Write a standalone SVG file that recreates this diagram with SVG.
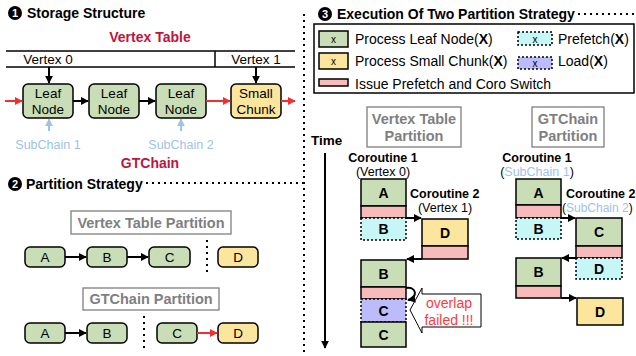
<svg xmlns="http://www.w3.org/2000/svg" width="636" height="356" viewBox="0 0 636 356">
<defs>
<style>
text{font-family:"Liberation Sans",Arial,sans-serif;fill:#000}
.ttl{font-size:14px;font-weight:bold}
.num{fill:#fff;font-size:11px;font-weight:bold;text-anchor:middle}
.red{fill:#C0143C;font-weight:bold;font-size:14px}
.lb{fill:#9DC3E6;font-size:12.5px}
.n{font-size:13.5px;text-anchor:middle}
.b{stroke:#000;stroke-width:1.5}
.g{fill:#C9DDB7}
.y{fill:#FCE59C}
.p{fill:#F8BBBB}
.c{fill:#C6F6F6;stroke:#000;stroke-width:1.5;stroke-dasharray:2 2}
.l{fill:#BCBCFC;stroke:#000;stroke-width:1.5;stroke-dasharray:2 2}
.gray{fill:#7F7F7F;font-weight:bold;font-size:14.5px;text-anchor:middle}
.gb{fill:#fff;stroke:#7F7F7F;stroke-width:1.3}
.leg{font-size:14px}
.bx{font-size:14px;font-weight:bold;text-anchor:middle}
.co{font-size:12.5px;font-weight:bold}
.par{font-size:12.5px;text-anchor:middle}
.warn{fill:#FF3B3B;font-size:14px;text-anchor:middle}
.dot{stroke:#000;stroke-width:2;stroke-dasharray:2 4;fill:none}
.ab{stroke:#000;stroke-width:2;fill:none}
.ar{stroke:#F03030;stroke-width:2;fill:none}
.abl{stroke:#9DC3E6;stroke-width:2;fill:none}
</style>
<marker id="mb" viewBox="0 0 10 10" refX="9" refY="5" markerWidth="4" markerHeight="4" orient="auto"><path d="M0,0L10,5L0,10z" fill="#000"/></marker>
<marker id="mr" viewBox="0 0 10 10" refX="9" refY="5" markerWidth="4" markerHeight="4" orient="auto"><path d="M0,0L10,5L0,10z" fill="#F03030"/></marker>
<marker id="ml" viewBox="0 0 10 10" refX="9" refY="5" markerWidth="4" markerHeight="4" orient="auto"><path d="M0,0L10,5L0,10z" fill="#9DC3E6"/></marker>
</defs>
<rect width="636" height="356" fill="#fff"/>

<g id="separators">
<line class="dot" x1="304" y1="14" x2="304" y2="356"/>
<line class="dot" x1="146" y1="183" x2="304" y2="183"/>
<line class="dot" x1="578" y1="14" x2="636" y2="14"/>
</g>

<g id="title1">
<circle cx="15" cy="13" r="7"/>
<text x="15" y="17" class="num">1</text>
<text x="27" y="18" class="ttl">Storage Structure</text>
</g>
<g id="vertex-table">
<text x="150" y="42" class="red" text-anchor="middle">Vertex Table</text>
<line x1="6" y1="51" x2="295" y2="51" stroke="#000" stroke-width="1.5"/>
<line x1="6" y1="67" x2="295" y2="67" stroke="#000" stroke-width="1.5"/>
<line x1="215" y1="51" x2="215" y2="67" stroke="#000" stroke-width="1.5"/>
<text x="48" y="64" class="n">Vertex 0</text>
<text x="256" y="64" class="n">Vertex 1</text>
</g>
<g id="leaf1"><rect x="23" y="84" width="50" height="34" rx="5" class="g b"/><text x="48" y="98" class="n">Leaf</text><text x="48" y="114" class="n">Node</text></g>
<g id="leaf2"><rect x="89" y="84" width="50" height="34" rx="5" class="g b"/><text x="114" y="98" class="n">Leaf</text><text x="114" y="114" class="n">Node</text></g>
<g id="leaf3"><rect x="156" y="84" width="50" height="34" rx="5" class="g b"/><text x="181" y="98" class="n">Leaf</text><text x="181" y="114" class="n">Node</text></g>
<g id="small-chunk"><rect x="231" y="84" width="50" height="34" rx="5" class="y b"/><text x="256" y="98" class="n">Small</text><text x="256" y="114" class="n">Chunk</text></g>
<g id="subchain-labels">
<text x="48" y="149" class="lb" text-anchor="middle">SubChain 1</text>
<text x="181" y="149" class="lb" text-anchor="middle">SubChain 2</text>
<text x="150" y="168" class="red" text-anchor="middle">GTChain</text>
</g>

<g id="title2">
<circle cx="15" cy="184" r="7"/>
<text x="15" y="188" class="num">2</text>
<text x="26" y="189" class="ttl">Partition Strategy</text>
</g>
<g id="vt-partition-label"><rect x="71" y="211" width="160" height="23" class="gb"/><text x="151" y="227.5" class="gray">Vertex Table Partition</text></g>
<g id="r1A"><rect x="25" y="247" width="40" height="20" rx="5" class="g b"/><text x="45" y="262" class="n">A</text></g>
<g id="r1B"><rect x="87" y="247" width="40" height="20" rx="5" class="g b"/><text x="107" y="262" class="n">B</text></g>
<g id="r1C"><rect x="149" y="247" width="41" height="20" rx="5" class="g b"/><text x="169.5" y="262" class="n">C</text></g>
<g id="r1D"><rect x="218" y="247" width="40" height="20" rx="5" class="y b"/><text x="238" y="262" class="n">D</text></g>
<g id="gt-partition-label"><rect x="83" y="288" width="136" height="22" class="gb"/><text x="151" y="304" class="gray">GTChain Partition</text></g>
<g id="r2A"><rect x="25" y="323" width="40" height="20" rx="5" class="g b"/><text x="45" y="338" class="n">A</text></g>
<g id="r2B"><rect x="87" y="323" width="40" height="20" rx="5" class="g b"/><text x="107" y="338" class="n">B</text></g>
<g id="r2C"><rect x="157" y="323" width="40" height="20" rx="5" class="g b"/><text x="177" y="338" class="n">C</text></g>
<g id="r2D"><rect x="218" y="323" width="40" height="20" rx="5" class="y b"/><text x="238" y="338" class="n">D</text></g>
<g id="partition-cuts">
<line class="dot" x1="207" y1="240" x2="207" y2="273"/>
<line class="dot" x1="144" y1="316" x2="144" y2="348"/>
</g>

<g id="title3">
<circle cx="325" cy="14" r="7"/>
<text x="325" y="18" class="num">3</text>
<text x="337" y="19" class="ttl">Execution Of Two Partition Strategy</text>
</g>
<g id="legend">
<rect x="314" y="24" width="320" height="69" fill="#fff" stroke="#000" stroke-width="1.5"/>
<rect x="319" y="31" width="29" height="16" class="g b"/><text x="333.5" y="43" font-size="10" text-anchor="middle">x</text>
<text x="355" y="44" class="leg">Process Leaf Node(<tspan font-weight="bold">X</tspan>)</text>
<rect x="319" y="53" width="29" height="16" class="y b"/><text x="333.5" y="65" font-size="10" text-anchor="middle">x</text>
<text x="355" y="66" class="leg">Process Small Chunk(<tspan font-weight="bold">X</tspan>)</text>
<rect x="319" y="79" width="29" height="7" class="p b"/>
<text x="355" y="89" class="leg">Issue Prefetch and Coro Switch</text>
<rect x="518" y="32" width="34" height="13" class="c"/><text x="535" y="43" font-size="10" text-anchor="middle">x</text>
<text x="558" y="44" class="leg">Prefetch(<tspan font-weight="bold">X</tspan>)</text>
<rect x="518" y="57" width="34" height="12" class="l"/><text x="535" y="67" font-size="10" text-anchor="middle">x</text>
<text x="558" y="66" class="leg">Load(<tspan font-weight="bold">X</tspan>)</text>
</g>
<g id="time-axis">
<text x="311" y="145" font-size="13.5" font-weight="bold">Time</text>
</g>

<g id="vt-exec-label"><rect x="367" y="107" width="94" height="40" class="gb"/><text x="414" y="124" class="gray">Vertex Table</text><text x="414" y="141" class="gray">Partition</text></g>
<g id="vt-coroutine1">
<text x="383" y="161.5" class="co" text-anchor="middle">Coroutine 1</text>
<text x="383" y="176" class="par">(Vertex 0)</text>
<rect x="361" y="179" width="45" height="27" class="g b"/><text x="383.5" y="198" class="bx">A</text>
<rect x="361" y="206" width="45" height="12" class="p b"/>
<rect x="361" y="218" width="45" height="22" class="c"/><text x="383.5" y="234" class="bx">B</text>
<rect x="361" y="260" width="45" height="27" class="g b"/><text x="383.5" y="279" class="bx">B</text>
<rect x="361" y="287" width="45" height="12" class="p b"/>
<rect x="361" y="299" width="45" height="23" class="l"/><text x="383.5" y="315.5" class="bx">C</text>
<rect x="361" y="322" width="45" height="25" class="g b"/><text x="383.5" y="340" class="bx">C</text>
</g>
<g id="vt-coroutine2">
<text x="410" y="197.5" class="co">Coroutine 2</text>
<text x="445" y="211.5" class="par">(Vertex 1)</text>
<rect x="422" y="219" width="46" height="27" class="y b"/><text x="445" y="238" class="bx">D</text>
<rect x="422" y="246" width="46" height="13" class="p b"/>
</g>
<g id="overlap-callout">
<path d="M410,310 L422,288 L422,294 L481,294 L481,327 L422,327 L422,333 Z" fill="#fff" stroke="#000" stroke-width="1"/>
<text x="449" y="308" class="warn">overlap</text>
<text x="449" y="325" class="warn">failed !!!</text>
</g>

<g id="gt-exec-label"><rect x="532" y="107" width="72" height="40" class="gb"/><text x="568" y="124" class="gray">GTChain</text><text x="568" y="141" class="gray">Partition</text></g>
<g id="gt-coroutine1">
<text x="537" y="161.5" class="co" text-anchor="middle">Coroutine 1</text>
<text x="537" y="176" class="par">(<tspan fill="#9DC3E6">SubChain 1</tspan>)</text>
<rect x="516" y="179" width="45" height="26" class="g b"/><text x="538.5" y="197.5" class="bx">A</text>
<rect x="516" y="205" width="45" height="13" class="p b"/>
<rect x="516" y="218" width="45" height="21" class="c"/><text x="538.5" y="234" class="bx">B</text>
<rect x="516" y="258" width="45" height="28" class="g b"/><text x="538.5" y="277" class="bx">B</text>
<rect x="516" y="286" width="45" height="12" class="p b"/>
</g>
<g id="gt-coroutine2">
<text x="566" y="197.5" class="co">Coroutine 2</text>
<text x="562" y="211.5" font-size="12">(<tspan fill="#9DC3E6">SubChain 2</tspan>)</text>
<rect x="576" y="218" width="46" height="28" class="g b"/><text x="599" y="237" class="bx">C</text>
<rect x="576" y="246" width="46" height="12" class="p b"/>
<rect x="576" y="258" width="46" height="21" class="c"/><text x="599" y="274" class="bx">D</text>
<rect x="577" y="298" width="46" height="27" class="y b"/><text x="600" y="317" class="bx">D</text>
</g>

<g id="connectors">
<line class="ab" x1="49" y1="67" x2="49" y2="83" marker-end="url(#mb)"/>
<line class="ab" x1="256" y1="67" x2="256" y2="83" marker-end="url(#mb)"/>
<line class="ar" x1="5" y1="101" x2="22" y2="101" marker-end="url(#mr)"/>
<line class="ab" x1="73" y1="101" x2="88" y2="101" marker-end="url(#mb)"/>
<line class="ab" x1="139" y1="101" x2="155" y2="101" marker-end="url(#mb)"/>
<line class="ar" x1="206" y1="101" x2="230" y2="101" marker-end="url(#mr)"/>
<line class="ar" x1="281" y1="101" x2="295" y2="101" marker-end="url(#mr)"/>
<line class="abl" x1="49" y1="131" x2="49" y2="119" marker-end="url(#ml)"/>
<line class="abl" x1="181" y1="131" x2="181" y2="119" marker-end="url(#ml)"/>
<line class="ab" x1="65" y1="257" x2="86" y2="257" marker-end="url(#mb)"/>
<line class="ab" x1="127" y1="257" x2="148" y2="257" marker-end="url(#mb)"/>
<line class="ab" x1="65" y1="333" x2="86" y2="333" marker-end="url(#mb)"/>
<line class="ar" x1="197" y1="333" x2="217" y2="333" marker-end="url(#mr)"/>
<line class="ab" x1="325" y1="153" x2="325" y2="348" marker-end="url(#mb)"/>
<line class="ab" x1="406" y1="218" x2="421" y2="218" marker-end="url(#mb)"/>
<line class="ab" x1="422" y1="259" x2="407" y2="259" marker-end="url(#mb)"/>
<path class="ab" d="M406,288 C417,286 418,298 408,300" marker-end="url(#mb)"/>
<line class="ab" x1="561" y1="218" x2="575" y2="218" marker-end="url(#mb)"/>
<line class="ab" x1="576" y1="258" x2="562" y2="258" marker-end="url(#mb)"/>
<line class="ab" x1="561" y1="298" x2="576" y2="298" marker-end="url(#mb)"/>
</g>
</svg>
